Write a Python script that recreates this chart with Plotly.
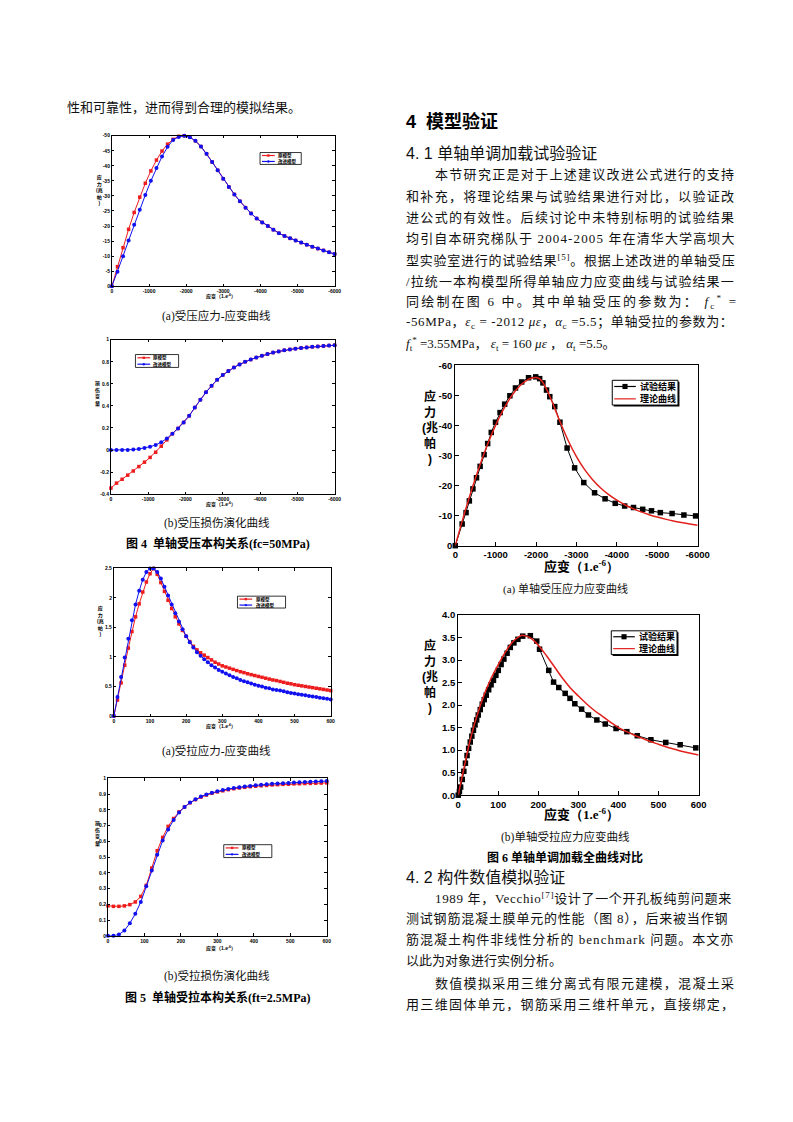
import re
import plotly.graph_objects as go

W, H = 793, 1122

# ================= DATA =================
# Fig 4(a): uniaxial compression stress-strain (fc = 50 MPa)
f4_strain = [0, -150, -300, -450, -600, -750, -900, -1050, -1200, -1350, -1500, -1650, -1800, -1950,
             -2100, -2250, -2400, -2550, -2700, -2850, -3000, -3150, -3300, -3450, -3600, -3750, -3900,
             -4050, -4200, -4350, -4500, -4650, -4800, -4950, -5100, -5250, -5400, -5550, -5700, -5850, -6000]
f4a_orig = [0, -6.5, -12.8, -18.9, -24.5, -29.6, -34.2, -38.3, -41.9, -44.9, -47.2, -48.8, -49.8, -50.0,
            -49.5, -48.3, -46.4, -44.0, -41.3, -38.5, -35.7, -33.0, -30.5, -28.2, -26.1, -24.2, -22.5,
            -21.2, -20.0, -18.8, -17.6, -16.7, -15.9, -15.2, -14.5, -13.8, -13.1, -12.5, -11.9, -11.3, -10.7]
f4a_impr = [0, -4.8, -10.0, -15.2, -20.4, -25.4, -30.3, -35.0, -39.3, -43.1, -46.3, -48.6, -49.6, -50.0,
            -49.5, -48.3, -46.4, -44.0, -41.3, -38.5, -35.7, -33.0, -30.5, -28.2, -26.1, -24.2, -22.5,
            -21.2, -20.0, -18.8, -17.6, -16.7, -15.9, -15.2, -14.5, -13.8, -13.1, -12.5, -11.9, -11.3, -10.7]
# Fig 4(b): compression damage
f4b_orig = [-0.345, -0.30, -0.265, -0.228, -0.19, -0.15, -0.11, -0.067, -0.02, 0.035, 0.092, 0.148,
            0.195, 0.25, 0.31, 0.385, 0.456, 0.524, 0.582, 0.637, 0.68, 0.716, 0.748, 0.776, 0.80, 0.82,
            0.838, 0.855, 0.87, 0.883, 0.894, 0.904, 0.912, 0.919, 0.925, 0.93, 0.935, 0.939, 0.943, 0.947, 0.95]
f4b_impr = [0, 0, 0, 0.001, 0.004, 0.01, 0.018, 0.03, 0.046, 0.07, 0.105, 0.148,
            0.195, 0.25, 0.31, 0.385, 0.456, 0.524, 0.582, 0.637, 0.68, 0.716, 0.748, 0.776, 0.80, 0.82,
            0.838, 0.855, 0.87, 0.883, 0.894, 0.904, 0.912, 0.919, 0.925, 0.93, 0.935, 0.939, 0.943, 0.947, 0.95]

# Fig 5(a): uniaxial tension stress-strain (ft = 2.5 MPa)
f5a_strain = [0, 10, 20, 30, 40, 50, 60, 70, 80, 90, 100, 110, 120, 130, 140, 150, 160, 170, 180, 190, 200,
              210, 220, 230, 240, 250, 260, 270, 280, 290, 300, 310, 320, 330, 340, 350, 360, 370, 380, 390,
              400, 410, 420, 430, 440, 450, 460, 470, 480, 490, 500, 510, 520, 530, 540, 550, 560, 570, 580,
              590, 600]
f5a_orig = [0, 0.27, 0.56, 0.86, 1.15, 1.43, 1.68, 1.90, 2.10, 2.27, 2.41,
            2.50, 2.40, 2.26, 2.11, 1.96, 1.82, 1.68, 1.56, 1.45, 1.35,
            1.26, 1.18, 1.12, 1.07, 1.03, 0.99, 0.95, 0.91, 0.88, 0.85,
            0.83, 0.81, 0.79, 0.77, 0.75, 0.735, 0.715, 0.70, 0.685, 0.67,
            0.655, 0.64, 0.625, 0.61, 0.60, 0.585, 0.57, 0.555, 0.545, 0.53,
            0.52, 0.51, 0.50, 0.49, 0.48, 0.47, 0.46, 0.45, 0.44, 0.43]
f5a_impr = [0, 0.32, 0.66, 0.99, 1.31, 1.62, 1.89, 2.12, 2.31, 2.44, 2.50,
            2.50, 2.44, 2.33, 2.19, 2.04, 1.89, 1.74, 1.60, 1.47, 1.35,
            1.25, 1.16, 1.08, 1.02, 0.96, 0.91, 0.86, 0.82, 0.78, 0.75,
            0.72, 0.69, 0.66, 0.64, 0.61, 0.59, 0.57, 0.55, 0.53, 0.51,
            0.50, 0.48, 0.47, 0.45, 0.44, 0.43, 0.42, 0.40, 0.39, 0.38,
            0.37, 0.36, 0.35, 0.34, 0.33, 0.32, 0.31, 0.30, 0.29, 0.28]
# Fig 5(b): tension damage
f5b_strain = [0, 15, 30, 45, 60, 75, 90, 105, 120, 135, 150, 165, 180, 195, 210, 225, 240, 255, 270, 285,
              300, 315, 330, 345, 360, 375, 390, 405, 420, 435, 450, 465, 480, 495, 510, 525, 540, 555, 570,
              585, 600]
f5b_orig = [0.19, 0.187, 0.187, 0.19, 0.198, 0.215, 0.25, 0.32, 0.43, 0.54, 0.625, 0.695, 0.745, 0.787,
            0.818, 0.845, 0.865, 0.881, 0.894, 0.905, 0.914, 0.921, 0.928, 0.934, 0.939, 0.943, 0.947,
            0.95, 0.953, 0.955, 0.958, 0.96, 0.962, 0.963, 0.965, 0.966, 0.967, 0.968, 0.969, 0.97, 0.971]
f5b_impr = [0, 0.0, 0.008, 0.033, 0.08, 0.14, 0.215, 0.315, 0.415, 0.515, 0.605, 0.675, 0.735, 0.783,
            0.818, 0.846, 0.867, 0.884, 0.898, 0.909, 0.918, 0.926, 0.933, 0.939, 0.944, 0.948, 0.952,
            0.956, 0.959, 0.962, 0.965, 0.967, 0.969, 0.971, 0.973, 0.975, 0.977, 0.978, 0.980, 0.981, 0.983]

# Fig 6(a): compression, test vs theory
f6a_test_strain = [0, -170, -267, -348, -437, -526, -615, -713, -802, -891, -996, -1109, -1223, -1352,
                   -1490, -1644, -1814, -1992, -2089, -2170, -2259, -2340, -2462, -2591, -2769, -2955,
                   -3182, -3449, -3709, -3960, -4194, -4413, -4640, -4858, -5077, -5368, -5660, -5951]
f6a_test_stress = [0, -7.2, -11.0, -14.9, -18.9, -22.6, -26.4, -30.3, -34.0, -37.7, -41.1, -44.3, -47.1,
                   -49.9, -52.5, -54.5, -55.9, -56.2, -55.6, -54.2, -51.8, -49.6, -46.3, -41.1, -32.5,
                   -25.9, -21.0, -17.6, -15.6, -14.1, -13.2, -12.7, -12.1, -11.6, -11.0, -10.7, -10.2, -9.9]
f6a_theory_strain = [0, -200, -400, -600, -800, -1000, -1200, -1400, -1600, -1800, -1900, -2000, -2100,
                     -2200, -2300, -2400, -2500, -2600, -2800, -3000, -3200, -3400, -3600, -3800, -4000,
                     -4200, -4400, -4600, -4800, -5000, -5200, -5400, -5600, -5800, -6000]
f6a_theory_stress = [0, -9.50, -18.34, -26.44, -33.74, -40.14, -45.57, -49.95, -53.21, -55.25, -55.79,
                     -56.0, -55.44, -53.64, -50.98, -47.81, -44.43, -41.07, -34.86, -29.64, -25.39, -21.97,
                     -19.21, -16.97, -15.13, -13.61, -12.33, -11.24, -10.32, -9.52, -8.83, -8.22, -7.69,
                     -7.21, -6.79]
# Fig 6(b): tension, test vs theory
f6b_test_strain = [0, 3, 6, 10, 14, 18, 22, 26, 30, 34, 38, 42, 46, 50, 55, 60, 65, 70, 76, 82, 88, 94, 100,
                   107, 114, 122, 130, 139, 149, 161, 180, 196, 203, 226, 238, 251, 267, 279, 291, 308, 325,
                   346, 367, 394, 421, 447, 481, 518, 554, 593]
f6b_test_stress = [0, 0.08, 0.18, 0.35, 0.53, 0.71, 0.88, 1.04, 1.18, 1.31, 1.44, 1.56, 1.67, 1.78, 1.90,
                   2.02, 2.12, 2.22, 2.34, 2.45, 2.55, 2.66, 2.77, 2.90, 3.02, 3.15, 3.28, 3.38, 3.46, 3.53,
                   3.54, 3.42, 3.24, 2.77, 2.51, 2.39, 2.26, 2.15, 2.03, 1.91, 1.78, 1.67, 1.58, 1.48, 1.41,
                   1.32, 1.23, 1.17, 1.12, 1.05]
f6b_theory_strain = [0, 5, 10, 20, 30, 40, 50, 60, 70, 80, 90, 100, 110, 120, 130, 140, 150, 160, 170, 180,
                     190, 200, 220, 240, 260, 280, 300, 320, 340, 360, 380, 400, 420, 440, 460, 480, 500,
                     520, 540, 560, 580, 600]
f6b_theory_stress = [0, 0.22, 0.42, 0.84, 1.23, 1.56, 1.85, 2.11, 2.35, 2.55, 2.73, 2.90, 3.06, 3.21, 3.34,
                     3.44, 3.51, 3.55, 3.53, 3.49, 3.42, 3.33, 3.10, 2.85, 2.60, 2.38, 2.20, 2.03, 1.88,
                     1.75, 1.62, 1.50, 1.41, 1.33, 1.26, 1.19, 1.13, 1.07, 1.02, 0.97, 0.93, 0.89]

left_legend_labels = ["原模型", "改进模型"]
right_legend_labels = ["试验结果", "理论曲线"]

# tick values / labels
comp_x_ticks = [0, -1000, -2000, -3000, -4000, -5000, -6000]
comp_x_text = ["0", "-1000", "-2000", "-3000", "-4000", "-5000", "-6000"]
tens_x_ticks = [0, 100, 200, 300, 400, 500, 600]
tens_x_text = ["0", "100", "200", "300", "400", "500", "600"]
f4a_y_ticks = [0, -5, -10, -15, -20, -25, -30, -35, -40, -45, -50]
f4a_y_text = ["0", "-5", "-10", "-15", "-20", "-25", "-30", "-35", "-40", "-45", "-50"]
f4b_y_ticks = [-0.4, -0.2, 0, 0.2, 0.4, 0.6, 0.8, 1]
f4b_y_text = ["-0.4", "-0.2", "0", "0.2", "0.4", "0.6", "0.8", "1"]
f5a_y_ticks = [0, 0.5, 1, 1.5, 2, 2.5]
f5a_y_text = ["0", "0.5", "1", "1.5", "2", "2.5"]
f5b_y_ticks = [0, 0.1, 0.2, 0.3, 0.4, 0.5, 0.6, 0.7, 0.8, 0.9, 1]
f5b_y_text = ["0", "0.1", "0.2", "0.3", "0.4", "0.5", "0.6", "0.7", "0.8", "0.9", "1"]
f6a_y_ticks = [0, -10, -20, -30, -40, -50, -60]
f6a_y_text = ["0", "-10", "-20", "-30", "-40", "-50", "-60"]
f6b_y_ticks = [0, 0.5, 1.0, 1.5, 2.0, 2.5, 3.0, 3.5, 4.0]
f6b_y_text = ["0.0", "0.5", "1.0", "1.5", "2.0", "2.5", "3.0", "3.5", "4.0"]

# ================= HELPERS =================
def X(px):
    return px / W


def Y(py):
    return 1 - py / H


BODY = "Liberation Serif, Noto Sans CJK SC"
SANS = "Liberation Sans, Noto Sans CJK SC"
RED_L = "#EE1C1C"
BLUE_L = "#1010F0"
RED_R = "#E2211C"

fig = go.Figure()
annotations = []
shapes = []


def txt(x, y, s, size, family=BODY, bold=False, xanchor="left", color="#111111"):
    annotations.append(dict(x=X(x), y=Y(y), xref="paper", yref="paper", text=s, showarrow=False,
                            xanchor=xanchor, yanchor="middle", borderpad=0,
                            font=dict(size=size, family=family, color=color,
                                      weight="bold" if bold else "normal")))


def char_w(c, fs):
    if ord(c) >= 0x2E80:
        return fs
    if c == " ":
        return 0.25 * fs
    if c in "il.,;:!|/[]()-*jtfI'":
        return 0.3 * fs
    if c.isupper():
        return 0.68 * fs
    return 0.5 * fs


def est_width(s, fs):
    w = 0.0
    n = 0
    small = False
    for part in re.split(r"(<[^>]+>)", s):
        if part.startswith("<"):
            tag = part.strip("<>/ ").split()[0] if part.strip("<>/ ") else ""
            if tag in ("sup", "sub"):
                small = not part.startswith("</")
            continue
        for c in part:
            w += char_w(c, fs) * (0.7 if small else 1.0)
            n += 1
    return w, n


def justified(x, y, s, fs, right=738):
    w, n = est_width(s, fs)
    ls = (right - x - w) / max(n - 1, 1)
    ls = max(min(ls, 4), -1.5)
    txt(x, y, '<span style="letter-spacing:%.2fpx">%s</span>' % (ls, s), fs)


def panel_axes(i, x0, x1, y0, y1, xr, yr, xt, xtt, yt, ytt, style):
    sx = "" if i == 1 else str(i)
    if style == "left":
        common = dict(showline=True, linecolor="black", linewidth=0.9, mirror="ticks", ticks="inside",
                      ticklen=2.5, tickwidth=0.8, tickcolor="black", showgrid=False, zeroline=False,
                      tickfont=dict(size=5, family="Liberation Sans", color="black", weight="bold"))
    else:
        common = dict(showline=True, linecolor="black", linewidth=1.3, mirror=True, ticks="inside",
                      ticklen=4, tickwidth=1.2, tickcolor="black", showgrid=False, zeroline=False,
                      tickfont=dict(size=9.5, family="Liberation Sans", color="black", weight="bold"))
    fig.layout["xaxis" + sx] = dict(domain=[X(x0), X(x1)], range=xr, anchor="y" + sx,
                                    tickmode="array", tickvals=xt, ticktext=xtt, **common)
    fig.layout["yaxis" + sx] = dict(domain=[Y(y1), Y(y0)], range=yr, anchor="x" + sx,
                                    tickmode="array", tickvals=yt, ticktext=ytt, **common)


def add_series(i, x, y, color, symbol=None, msize=4, lw=1.0, mode="lines+markers", shape="linear"):
    sx = "" if i == 1 else str(i)
    kw = dict(x=x, y=y, xaxis="x" + sx, yaxis="y" + sx, mode=mode, cliponaxis=False,
              line=dict(color=color, width=lw, shape=shape), showlegend=False, hoverinfo="skip")
    if symbol:
        kw["marker"] = dict(symbol=symbol, size=msize, color=color, line=dict(width=0))
    fig.add_trace(go.Scatter(**kw))


def legend_box(x0, y0, x1, y1, entries, fs, line0, line1, tx, msz, border=0.8, shadow=False):
    if shadow:
        shapes.append(dict(type="rect", xref="paper", yref="paper", x0=X(x0 + 1.5), x1=X(x1 + 1.5),
                           y0=Y(y1 + 1.5), y1=Y(y0 + 1.5), line=dict(width=0), fillcolor="black"))
    shapes.append(dict(type="rect", xref="paper", yref="paper", x0=X(x0), x1=X(x1), y0=Y(y1), y1=Y(y0),
                       line=dict(color="black", width=border), fillcolor="white"))
    n = len(entries)
    for k, (label, color, symbol) in enumerate(entries):
        yc = y0 + (y1 - y0) * (k + 0.5) / n
        shapes.append(dict(type="line", xref="paper", yref="paper", x0=X(x0 + line0), x1=X(x0 + line1),
                           y0=Y(yc), y1=Y(yc), line=dict(color=color, width=1.2)))
        xm = x0 + (line0 + line1) / 2
        if symbol == "square":
            shapes.append(dict(type="rect", xref="paper", yref="paper", x0=X(xm - msz), x1=X(xm + msz),
                               y0=Y(yc + msz), y1=Y(yc - msz), line=dict(width=0), fillcolor=color))
        elif symbol == "circle":
            shapes.append(dict(type="circle", xref="paper", yref="paper", x0=X(xm - msz), x1=X(xm + msz),
                               y0=Y(yc + msz), y1=Y(yc - msz), line=dict(width=0), fillcolor=color))
        txt(x0 + tx, yc, label, fs, family=SANS, bold=True, color="black")


# ================= PANELS =================
panel_axes(1, 111, 338, 131, 283, [0, -6000], [0, -50], comp_x_ticks, comp_x_text, f4a_y_ticks, f4a_y_text, "left")
panel_axes(2, 110, 338, 337, 493, [0, -6000], [-0.4, 1], comp_x_ticks, comp_x_text, f4b_y_ticks, f4b_y_text, "left")
panel_axes(3, 113, 334, 568, 717, [0, 600], [0, 2.5], tens_x_ticks, tens_x_text, f5a_y_ticks, f5a_y_text, "left")
panel_axes(4, 107, 330, 780, 939, [0, 600], [0, 1], tens_x_ticks, tens_x_text, f5b_y_ticks, f5b_y_text, "left")
panel_axes(5, 461, 708, 363, 545, [0, -6000], [0, -60], comp_x_ticks, comp_x_text, f6a_y_ticks, f6a_y_text, "right")
panel_axes(6, 464, 709, 615, 797, [0, 600], [0, 4], tens_x_ticks, tens_x_text, f6b_y_ticks, f6b_y_text, "right")

add_series(1, f4_strain, f4a_orig, RED_L, "square", 3.5)
add_series(1, f4_strain, f4a_impr, BLUE_L, "circle", 4)
add_series(2, f4_strain, f4b_orig, RED_L, "square", 3.5)
add_series(2, f4_strain, f4b_impr, BLUE_L, "circle", 4)
add_series(3, f5a_strain, f5a_orig, RED_L, "square", 3.5)
add_series(3, f5a_strain, f5a_impr, BLUE_L, "circle", 4)
add_series(4, f5b_strain, f5b_orig, RED_L, "square", 3.5)
add_series(4, f5b_strain, f5b_impr, BLUE_L, "circle", 4)
add_series(5, f6a_test_strain, f6a_test_stress, "black", "square", 5.5, 1.0)
add_series(5, f6a_theory_strain, f6a_theory_stress, RED_R, None, lw=1.5, mode="lines", shape="spline")
add_series(6, f6b_test_strain, f6b_test_stress, "black", "square", 5.5, 1.0)
add_series(6, f6b_theory_strain, f6b_theory_stress, RED_R, None, lw=1.5, mode="lines", shape="spline")

# legends
left_entries = [(left_legend_labels[0], RED_L, "square"), (left_legend_labels[1], BLUE_L, "circle")]
right_entries = [(right_legend_labels[0], "black", "square"), (right_legend_labels[1], RED_R, None)]
legend_box(262, 148, 304, 160, left_entries, 4.5, 2, 15, 17, 1.2)
legend_box(135, 352, 179, 365, left_entries, 4.5, 2, 15, 17, 1.2)
legend_box(239, 596, 288, 608, left_entries, 4.5, 2, 15, 18, 1.2)
legend_box(225, 847, 274, 860, left_entries, 4.5, 2, 15, 18, 1.2)
legend_box(621, 378, 688, 403, right_entries, 9, 2, 24, 27, 2.6, 1.0, True)
legend_box(620, 631, 687, 655, right_entries, 9, 2, 24, 27, 2.6, 1.0, True)

# axis titles (left charts, tiny)
xt_small = "应变（1.e<sup>-6</sup>）"
for yy in (293, 503, 728, 952):
    txt(222, yy, xt_small, 5, family=SANS, bold=True, xanchor="center", color="black")
txt(98, 186, "应<br>力<br>(兆<br>帕<br>)", 5, family=SANS, bold=True, xanchor="center", color="black")
txt(96, 391, "损<br>伤<br>变<br>量", 5, family=SANS, bold=True, xanchor="center", color="black")
txt(99, 621, "应<br>力<br>(兆<br>帕<br>)", 5, family=SANS, bold=True, xanchor="center", color="black")
txt(96, 836, "损<br>伤<br>变<br>量", 5, family=SANS, bold=True, xanchor="center", color="black")

# axis titles (right charts)
xt_big = "<b>应变</b><span style='font-family:Liberation Serif'><b>（1.e<sup>-6</sup>）</b></span>"
txt(590, 566, xt_big, 13, family=SANS, xanchor="center", color="black")
txt(590, 816, xt_big, 13, family=SANS, xanchor="center", color="black")
txt(435, 426, "应<br>力<br>(兆<br>帕<br>)", 12, family=SANS, bold=True, xanchor="center", color="black")
txt(435, 677, "应<br>力<br>(兆<br>帕<br>)", 12, family=SANS, bold=True, xanchor="center", color="black")

# captions
txt(218, 313, "(a)受压应力-应变曲线", 11.5, xanchor="center")
txt(218, 522, "(b)受压损伤演化曲线", 11.5, xanchor="center")
txt(219, 543, "图 4  单轴受压本构关系(fc=50MPa)", 12, bold=True, xanchor="center", color="black")
txt(218, 752, "(a)受拉应力-应变曲线", 11.5, xanchor="center")
txt(218, 980, "(b)受拉损伤演化曲线", 11.5, xanchor="center")
txt(219, 1001, "图 5  单轴受拉本构关系(ft=2.5MPa)", 12, bold=True, xanchor="center", color="black")
txt(573, 589, "(a) 单轴受压应力应变曲线", 11, xanchor="center")
txt(573, 839, "(b)单轴受拉应力应变曲线", 11.5, xanchor="center")
txt(573, 860, "图 6 单轴单调加载全曲线对比", 12, bold=True, xanchor="center", color="black")

# body text
txt(64, 103, "性和可靠性，进而得到合理的模拟结果。", 13)
txt(410, 117, "4  模型验证", 18, family=SANS, bold=True, color="black")
txt(410, 149, "4. 1 单轴单调加载试验验证", 16, family=SANS)

FS = 13
justified(439, 170.5, "本节研究正是对于上述建议改进公式进行的支持", FS)
justified(410, 192, "和补充，将理论结果与试验结果进行对比，以验证改", FS)
justified(410, 213.5, "进公式的有效性。后续讨论中未特别标明的试验结果", FS)
justified(410, 235, "均引自本研究梯队于 2004-2005 年在清华大学高坝大", FS)
justified(410, 256.5, "型实验室进行的试验结果<sup>[5]</sup>。根据上述改进的单轴受压", FS)
justified(410, 278, "/拉统一本构模型所得单轴应力应变曲线与试验结果一", FS)
justified(410, 299, "同绘制在图 6 中。其中单轴受压的参数为： <i>f</i><sub>c</sub><sup>*</sup> =", FS)
justified(410, 320, "-56MPa，<i>ε</i><sub>c</sub> = -2012 <i>με</i>，<i>α</i><sub>c</sub> =5.5；单轴受拉的参数为：", FS)
txt(410, 341, "<i>f</i><sub>t</sub><sup>*</sup> =3.55MPa， <i>ε</i><sub>t</sub> = 160 <i>με</i> ， <i>α</i><sub>t</sub> =5.5。", FS)

txt(410, 880, "4. 2 构件数值模拟验证", 16, family=SANS)
justified(439, 900.5, "1989 年，Vecchio<sup>[7]</sup>设计了一个开孔板纯剪问题来", FS)
justified(410, 922, "测试钢筋混凝土膜单元的性能（图 8），后来被当作钢", FS)
justified(410, 943, "筋混凝土构件非线性分析的 benchmark 问题。本文亦", FS)
txt(410, 963.5, "以此为对象进行实例分析。", FS)
justified(439, 987, "数值模拟采用三维分离式有限元建模，混凝土采", FS)
justified(410, 1008, "用三维固体单元，钢筋采用三维杆单元，直接绑定，", FS)

fig.update_layout(width=W, height=H, margin=dict(l=0, r=0, t=0, b=0), paper_bgcolor="white",
                  plot_bgcolor="white", showlegend=False, annotations=annotations, shapes=shapes)

fig.write_html("out.html", config={"displayModeBar": False},
               post_script="document.body.style.margin='0px';")
